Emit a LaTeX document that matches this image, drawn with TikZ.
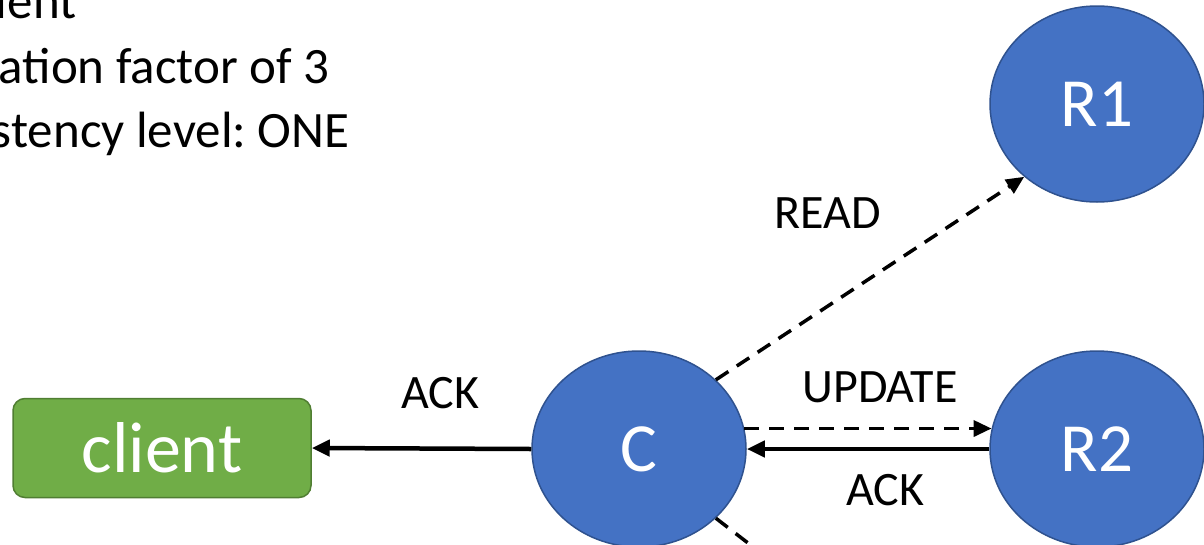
\documentclass[tikz,border=0pt]{standalone}
\usepackage{fontspec}
\setmainfont{Carlito}
\usetikzlibrary{arrows.meta,shapes.geometric}
\definecolor{nodeblue}{HTML}{4472C4}
\definecolor{nodeedge}{HTML}{2F528F}
\definecolor{clientgreen}{HTML}{70AD47}
\definecolor{clientedge}{HTML}{507E32}
\begin{document}
\begin{tikzpicture}[x=1pt, y=-1pt, >={Triangle[length=18pt,width=16pt]},
  replica/.style={ellipse, draw=nodeedge, fill=nodeblue, line width=1.5pt,
    minimum width=214pt, minimum height=196pt, inner sep=0pt, text=white,
    font=\fontsize{69}{72}\selectfont},
  lbl/.style={font=\fontsize{48}{52}\selectfont},
  note/.style={anchor=base east, font=\fontsize{51}{56}\selectfont},
  msg/.style={->, line width=3.5pt, dash pattern=on 15pt off 10pt},
  reply/.style={->, line width=4.5pt}]
  \useasboundingbox (0,0) rectangle (1204,544);
  \clip (0,0) rectangle (1204,544);
  % settings, cut at the left edge
  \node[note] (rf) at (80,18) {client};
  \node[note] (rep) at (333,83) {Replication factor of 3};
  \node[note] (lvl) at (353,147) {Consistency level:~ONE};
  % nodes
  \node[draw=clientedge, fill=clientgreen, line width=1.5pt, rounded corners=12pt,
    minimum width=298pt, minimum height=99pt, text=white,
    font=\fontsize{72}{76}\selectfont] (client) at (162,448) {client};
  \node[replica] (C) at (639,449) {C};
  \node[replica] (R1) at (1097,104) {R1};
  \node[replica] (R2) at (1097,449) {R2};
  \coordinate (R3) at (792,577);
  % messages
  \draw[reply] (C.west) -- (client.east);
  \draw[msg] (C.42) -- (R1.225);
  \draw[msg] (C.11) -- (R2.169);
  \draw[reply] (R2.west) -- (C.east);
  \draw[msg] (C.-42) -- (R3);
  \node[lbl] (ack1) at (440,393) {ACK};
  \node[lbl] (read) at (828,213) {READ};
  \node[lbl] (upd) at (880,387) {UPDATE};
  \node[lbl] (ack2) at (885,490) {ACK};
\end{tikzpicture}
\end{document}
